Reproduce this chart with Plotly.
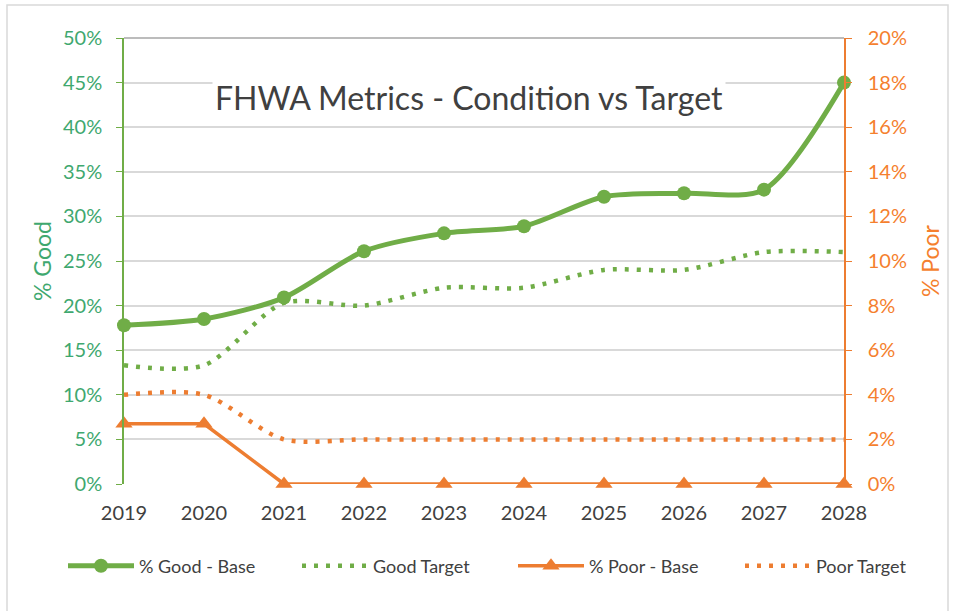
import plotly.graph_objects as go

years = [2019, 2020, 2021, 2022, 2023, 2024, 2025, 2026, 2027, 2028]
good_base = [17.8, 18.5, 20.9, 26.1, 28.1, 28.9, 32.2, 32.6, 33.0, 45.0]
good_target = [13.3, 13.3, 20.3, 20.0, 22.0, 22.0, 24.0, 24.0, 26.0, 26.0]
poor_base = [2.7, 2.7, 0, 0, 0, 0, 0, 0, 0, 0]
poor_target = [4.0, 4.0, 2.0, 2.0, 2.0, 2.0, 2.0, 2.0, 2.0, 2.0]
left_ticks = list(range(0, 51, 5))
right_ticks = list(range(0, 21, 2))

GREEN = "#70AD47"
ORANGE = "#ED7D31"
GREEN_TXT = "#3FA86F"
ORANGE_TXT = "#F57F2E"
FONT = "Lato"

L, R, T, B = 124, 110, 38, 127
PW = 954 - L - R
PH = 611 - T - B

fig = go.Figure()
fig.add_trace(go.Scatter(x=years, y=good_base, name="% Good - Base", mode="lines+markers",
                         line=dict(color=GREEN, width=5, shape="spline", smoothing=0.8),
                         marker=dict(symbol="circle", size=14, color=GREEN), yaxis="y",
                         cliponaxis=False, legend="legend"))
fig.add_trace(go.Scatter(x=years, y=good_target, name="Good Target", mode="lines",
                         line=dict(color=GREEN, width=4.5, dash="4px,8px", shape="spline", smoothing=0.8),
                         yaxis="y", legend="legend2"))
fig.add_trace(go.Scatter(x=years, y=poor_base, name="% Poor - Base", mode="lines+markers",
                         line=dict(color=ORANGE, width=3.5),
                         marker=dict(symbol="triangle-up", size=15, color=ORANGE), yaxis="y2",
                         cliponaxis=False, legend="legend3"))
fig.add_trace(go.Scatter(x=years, y=poor_target, name="Poor Target", mode="lines",
                         line=dict(color=ORANGE, width=4.5, dash="4px,8px", shape="spline", smoothing=0.8),
                         yaxis="y2", legend="legend4"))


def leg(px):
    return dict(orientation="h", x=(px - 5 - L) / PW, xanchor="left",
                y=(T + PH - 566) / PH, yanchor="middle", bgcolor="rgba(0,0,0,0)",
                font=dict(family=FONT, size=18, color="#404040"), itemwidth=66)


fig.update_layout(
    width=954, height=611,
    margin=dict(l=L, r=R, t=T, b=B),
    paper_bgcolor="white", plot_bgcolor="white",
    font=dict(family=FONT, size=19, color="#404040"),
    showlegend=True,
    legend=leg(68), legend2=leg(302), legend3=leg(518), legend4=leg(745),
    xaxis=dict(range=[2019, 2028], tickvals=years, ticktext=[str(y) for y in years],
               showgrid=False, zeroline=False, showline=False, ticks="", automargin=False,
               ticklabelstandoff=15,
               tickfont=dict(size=20, color="#404040")),
    yaxis=dict(range=[0, 50], tickvals=left_ticks, ticktext=[f"{v}%" for v in left_ticks],
               showgrid=True, gridcolor="#D9D9D9", gridwidth=1.5, zeroline=False,
               showline=True, linecolor=GREEN, linewidth=1.5, automargin=False,
               ticks="outside", ticklen=6, tickcolor=GREEN, ticklabelstandoff=10,
               tickfont=dict(size=20, color=GREEN_TXT)),
    yaxis2=dict(range=[0, 20], tickvals=right_ticks, ticktext=[f"{v}%" for v in right_ticks],
                overlaying="y", side="right", showgrid=False, zeroline=False,
                showline=True, linecolor=ORANGE, linewidth=1.5, automargin=False,
                ticks="outside", ticklen=6, tickcolor=ORANGE, ticklabelstandoff=12,
                tickfont=dict(size=20, color=ORANGE_TXT)),
)

# top border of the plot area and outer chart frame
fig.add_shape(type="line", xref="paper", yref="paper", x0=0, x1=1, y0=1, y1=1,
              line=dict(color="#A6A6A6", width=1.5), layer="below")
fig.add_shape(type="rect", xref="paper", yref="paper",
              x0=(7 - L) / PW, x1=(948 - L) / PW, y0=-0.45, y1=(T + PH - 5) / PH,
              line=dict(color="#D9D9D9", width=1.5), layer="below")

fig.add_annotation(text="FHWA Metrics - Condition vs Target", xref="paper", yref="paper",
                   x=(469 - L) / PW, y=(T + PH - 75) / PH, showarrow=False, bgcolor="white",
                   font=dict(family=FONT, size=32, color="#404040"), borderpad=2)

fig.add_annotation(text="% Good", xref="paper", yref="paper", x=(42 - L) / PW, y=0.5,
                   textangle=-90, showarrow=False, xanchor="center", yanchor="middle",
                   font=dict(family=FONT, size=23, color=GREEN_TXT))
fig.add_annotation(text="% Poor", xref="paper", yref="paper", x=(930 - L) / PW, y=0.5,
                   textangle=-90, showarrow=False, xanchor="center", yanchor="middle",
                   font=dict(family=FONT, size=23, color=ORANGE_TXT))

fig.write_html("out.html", config={"displayModeBar": False},
               post_script="document.body.style.margin='0px';")
